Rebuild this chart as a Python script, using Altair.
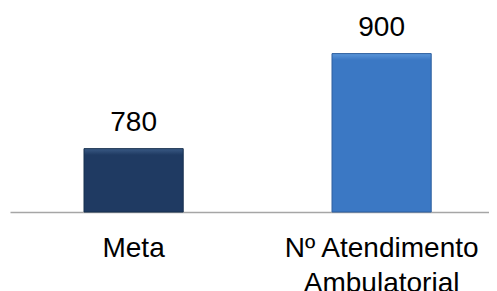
import altair as alt
import pandas as pd

categories = ["Meta", "Nº Atendimento Ambulatorial"]
values = [780, 900]
base_colors = ["#1F3A62", "#3B78C4"]
top_colors = ["#3A5A85", "#5A96DA"]
edge_colors = ["#17304F", "#2E5F9E"]
bevel_frac = [0.1, 0.04]

df = pd.DataFrame({"cat": categories, "val": values})

x = alt.X(
    "cat:N",
    sort=categories,
    scale=alt.Scale(paddingInner=0.6, paddingOuter=0.2657, align=0.5615),
    axis=alt.Axis(
        title=None,
        labelAngle=0,
        labelFont="Liberation Sans",
        labelFontSize=28,
        labelColor="#000000",
        labelBaseline="alphabetic",
        labelPadding=44,
        labelLineHeight=35,
        labelLimit=0,
        labelExpr="datum.value == 'Nº Atendimento Ambulatorial' ? ['Nº Atendimento', 'Ambulatorial'] : datum.label",
        ticks=False,
        tickSize=0,
        domainColor="#A6A6A6",
        domainWidth=1.5,
        grid=False,
    ),
)
y = alt.Y(
    "val:Q",
    scale=alt.Scale(domain=[700, 950], zero=False, clamp=True, nice=False),
    axis=None,
)

layers = []
for i, c in enumerate(categories):
    grad = alt.Gradient(
        gradient="linear",
        x1=0, y1=0, x2=0, y2=1,
        stops=[
            alt.GradientStop(color=top_colors[i], offset=0),
            alt.GradientStop(color=base_colors[i], offset=bevel_frac[i]),
            alt.GradientStop(color=base_colors[i], offset=1),
        ],
    )
    layers.append(
        alt.Chart(df)
        .transform_filter(alt.datum.cat == c)
        .mark_bar(color=grad, stroke=edge_colors[i], strokeWidth=1)
        .encode(x=x, y=y, y2=alt.datum(700))
    )

labels = alt.Chart(df).mark_text(
    font="Liberation Sans", fontSize=28, color="#000000", baseline="alphabetic", dy=-18
).encode(x=x, y=y, text=alt.Text("val:Q"))

chart = (
    alt.layer(*layers, labels)
    .properties(width=479, height=198, padding={"left": 2, "top": 5, "right": 0, "bottom": 0})
    .configure(background="#FFFFFF")
    .configure_view(strokeWidth=0, stroke="transparent")
)

chart.save("out.html", embed_options={"renderer": "svg", "actions": False})
